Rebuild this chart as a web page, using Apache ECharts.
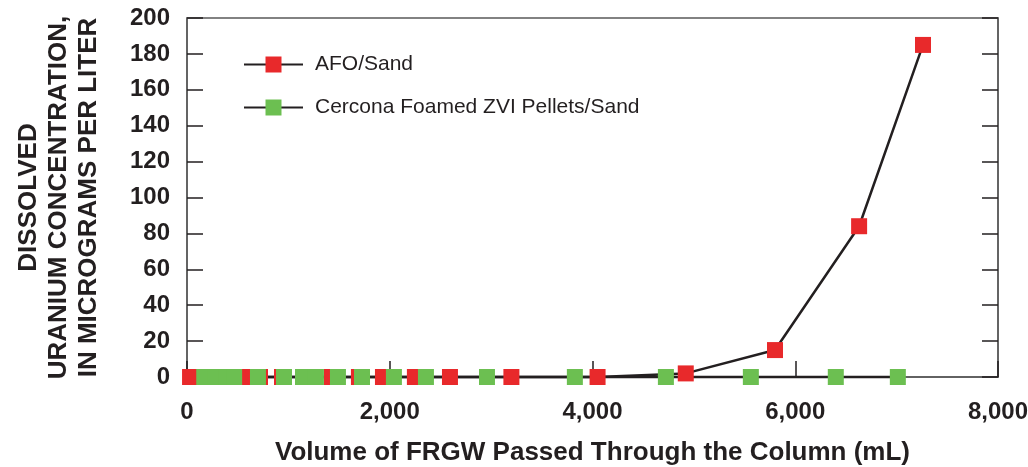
<!DOCTYPE html>
<html>
<head>
<meta charset="utf-8">
<script src="https://cdn.jsdelivr.net/npm/echarts@6/dist/echarts.min.js"></script>
<style>
    html, body { margin: 0; padding: 0; background: #fff; }
    #chart { width: 1028px; height: 467px; }
</style>
</head>
<body>
<div id="chart"></div>
<script>
    // volume passed (mL) and dissolved uranium (ug/L)
    var afoVolume = [30, 620, 720, 937, 1430, 1696, 1933, 2248, 2594, 3200, 4050, 4920, 5800, 6630, 7260];
    var afoUranium = [0, 0, 0, 0, 0, 0, 0, 0, 0, 0, 0, 2, 15, 84, 185];
    var zviVolume = [170, 280, 390, 465, 700, 957, 1144, 1272, 1489, 1726, 2041, 2357, 2959, 3826, 4724, 5562, 6400, 7012];
    var zviUranium = [0, 0, 0, 0, 0, 0, 0, 0, 0, 0, 0, 0, 0, 0, 0, 0, 0, 0];
    var seriesNames = ['AFO/Sand', 'Cercona Foamed ZVI Pellets/Sand'];

    function pairs(xs, ys) {
        return xs.map(function (x, i) { return [x, ys[i]]; });
    }

    var ink = '#231f20';
    var frame = '#5a5a5a';

    var myChart = echarts.init(document.getElementById('chart'));
    var option = {
        animation: false,
        grid: {
            left: 187,
            right: 30,
            top: 18,
            bottom: 90,
            outerBoundsMode: 'none',
            containLabel: false,
            show: true,
            borderColor: frame,
            borderWidth: 1.5
        },
        legend: {
            left: 243,
            top: 54,
            padding: 0,
            orient: 'vertical',
            itemWidth: 59,
            itemHeight: 20,
            itemGap: 22,
            textStyle: { fontFamily: 'Liberation Sans', fontSize: 21, color: ink, padding: [0, 0, 0, 7] },
            data: seriesNames
        },
        xAxis: {
            type: 'value',
            min: 0,
            max: 8000,
            interval: 2000,
            splitLine: { show: false },
            axisLine: { lineStyle: { color: frame, width: 1.5 } },
            axisTick: { inside: true, length: 16, lineStyle: { color: ink, width: 1.5 } },
            axisLabel: {
                margin: 23,
                fontFamily: 'Liberation Sans',
                fontWeight: 'bold',
                fontSize: 24,
                color: ink,
                formatter: function (v) { return v === 0 ? '0' : v.toLocaleString('en-US'); }
            },
            name: 'Volume of FRGW Passed Through the Column (mL)',
            nameLocation: 'middle',
            nameGap: 63,
            nameTextStyle: { fontFamily: 'Liberation Sans', fontWeight: 'bold', fontSize: 26, color: ink }
        },
        yAxis: [
            {
                type: 'value',
                min: 0,
                max: 200,
                interval: 20,
                splitLine: { show: false },
                axisLine: { lineStyle: { color: frame, width: 1.5 } },
                axisTick: { inside: true, length: 16, lineStyle: { color: ink, width: 1.5 } },
                axisLabel: { margin: 17, fontFamily: 'Liberation Sans', fontWeight: 'bold', fontSize: 24, color: ink },
                name: 'DISSOLVED\nURANIUM CONCENTRATION,\nIN MICROGRAMS PER LITER',
                nameLocation: 'middle',
                nameRotate: 90,
                nameGap: 83,
                nameTextStyle: { fontFamily: 'Liberation Sans', fontWeight: 'bold', fontSize: 26, lineHeight: 30, color: ink }
            },
            {
                type: 'value',
                position: 'right',
                min: 0,
                max: 200,
                interval: 20,
                splitLine: { show: false },
                axisLine: { show: true, lineStyle: { color: frame, width: 1.5 } },
                axisTick: { inside: true, length: 16, lineStyle: { color: ink, width: 1.5 } },
                axisLabel: { show: false }
            }
        ],
        series: [
            {
                name: seriesNames[0],
                type: 'line',
                data: pairs(afoVolume, afoUranium),
                symbol: 'rect',
                symbolSize: 16,
                showAllSymbol: true,
                clip: false,
                itemStyle: { color: '#e8292b' },
                lineStyle: { color: ink, width: 2.5 }
            },
            {
                name: seriesNames[1],
                type: 'line',
                data: pairs(zviVolume, zviUranium),
                symbol: 'rect',
                symbolSize: 16,
                showAllSymbol: true,
                clip: false,
                itemStyle: { color: '#6cbf51' },
                lineStyle: { color: ink, width: 2.5 }
            }
        ]
    };
    myChart.setOption(option);
</script>
</body>
</html>
